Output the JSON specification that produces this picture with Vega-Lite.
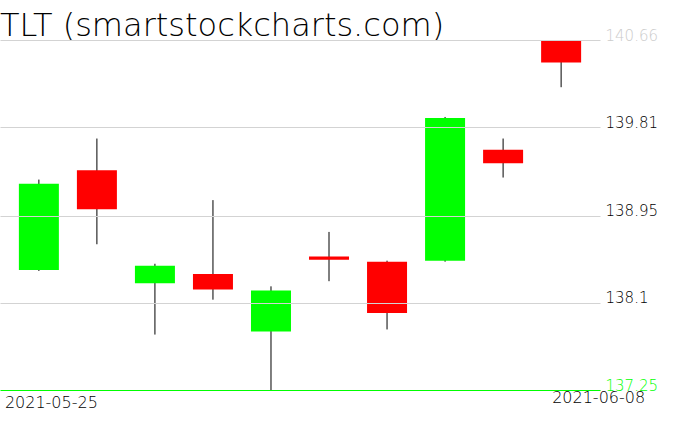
{
  "$schema": "https://vega.github.io/schema/vega-lite/v6.json",
  "width": 600,
  "height": 350,
  "autosize": {"type": "none"},
  "padding": {"left": 0, "top": 40, "right": 76, "bottom": 41},
  "background": "white",
  "title": {"text": "TLT (smartstockcharts.com)", "anchor": "start", "orient": "top", "frame": "group", "font": "DejaVu Sans", "fontSize": 32, "fontWeight": 200, "color": "black", "baseline": "alphabetic", "offset": 0, "dy": 40},
  "config": {"view": {"stroke": null}},
  "data": {"values": [
    {"date": "2021-05-25", "open": 138.42, "high": 139.30, "low": 138.41, "close": 139.26},
    {"date": "2021-05-26", "open": 139.39, "high": 139.70, "low": 138.67, "close": 139.01},
    {"date": "2021-05-27", "open": 138.29, "high": 138.48, "low": 137.79, "close": 138.46},
    {"date": "2021-05-28", "open": 138.38, "high": 139.10, "low": 138.13, "close": 138.23},
    {"date": "2021-06-01", "open": 137.82, "high": 138.26, "low": 137.25, "close": 138.22},
    {"date": "2021-06-02", "open": 138.55, "high": 138.79, "low": 138.31, "close": 138.52},
    {"date": "2021-06-03", "open": 138.50, "high": 138.51, "low": 137.84, "close": 138.00},
    {"date": "2021-06-04", "open": 138.51, "high": 139.91, "low": 138.50, "close": 139.90},
    {"date": "2021-06-07", "open": 139.59, "high": 139.70, "low": 139.32, "close": 139.46},
    {"date": "2021-06-08", "open": 140.65, "high": 140.66, "low": 140.20, "close": 140.44}
  ]},
  "encoding": {
    "x": {
      "field": "date", "type": "ordinal",
      "scale": {"paddingInner": 0, "paddingOuter": 0.17},
      "axis": {
        "title": null, "domain": false, "ticks": false, "labelAngle": 0,
        "values": ["2021-05-25", "2021-06-08"],
        "labelFont": "DejaVu Sans", "labelFontSize": 16, "labelFontWeight": 200, "labelColor": "black",
        "labelAlign": {"condition": {"test": "datum.value == '2021-05-25'", "value": "left"}, "value": "right"},
        "labelOffset": {"condition": {"test": "datum.value == '2021-05-25'", "value": -34}, "value": 84},
        "labelPadding": {"condition": {"test": "datum.value == '2021-05-25'", "value": 4}, "value": -1},
        "labelBaseline": "top", "labelOverlap": false, "labelBound": false, "labelFlush": false
      }
    },
    "y": {
      "type": "quantitative",
      "scale": {"domain": [137.25, 140.66], "nice": false, "zero": false},
      "axis": {
        "orient": "right", "title": null, "domain": false, "ticks": false,
        "values": [137.25, 138.1, 138.95, 139.81, 140.66],
        "grid": true,
        "gridColor": {"condition": {"test": "datum.value == 137.25", "value": "#00ff00"}, "value": "#d3d3d3"},
        "gridWidth": 1,
        "labelColor": {"condition": [{"test": "datum.value == 137.25", "value": "#00ff00"}, {"test": "datum.value == 140.66", "value": "#cccccc"}], "value": "black"},
        "labelExpr": "datum.value + ''",
        "labelBaseline": "alphabetic", "labelPadding": 5,
        "labelFont": "DejaVu Sans", "labelFontSize": 15, "labelFontWeight": 200,
        "labelFlush": false, "labelOverlap": false, "labelBound": false,
        "zindex": 1
      }
    }
  },
  "layer": [
    {
      "mark": {"type": "rule", "color": "black", "strokeWidth": 1},
      "encoding": {"y": {"field": "low", "type": "quantitative"}, "y2": {"field": "high"}}
    },
    {
      "mark": {"type": "bar", "size": 40},
      "encoding": {
        "y": {"field": "open", "type": "quantitative"},
        "y2": {"field": "close"},
        "color": {"condition": {"test": "datum.close >= datum.open", "value": "#00ff00"}, "value": "#ff0000"}
      }
    }
  ]
}
